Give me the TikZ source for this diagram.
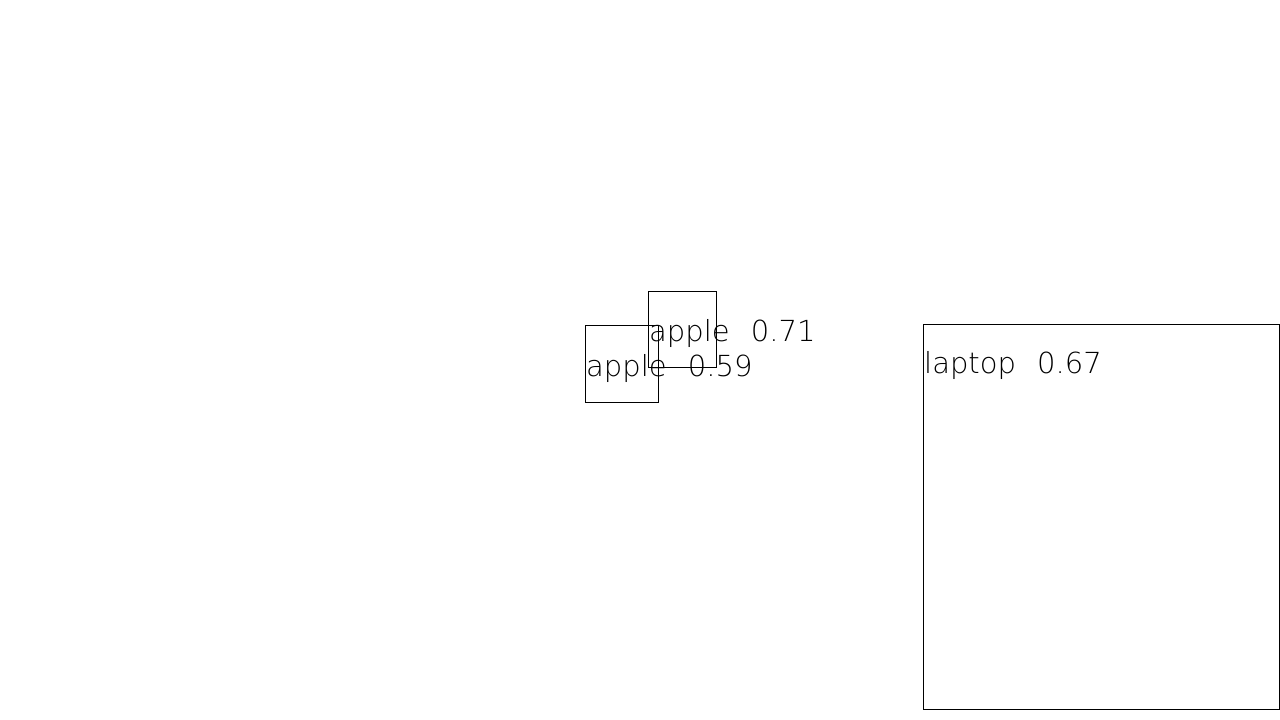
\documentclass[tikz,border=0pt]{standalone}
\usepackage{fontspec}
\usepackage{tikz}
\usetikzlibrary{calc}
\newfontfamily\detfont{DejaVu Sans}[UprightFont=* ExtraLight, WordSpace=2.3]

\tikzset{
	detbox/.style={draw=black, line width=1pt, inner sep=0pt, anchor=north west},
	detlabel/.style={anchor=base west, inner sep=0pt, text=black, font=\detfont\fontsize{29}{29}\selectfont}
}

\begin{document}
\begin{tikzpicture}[x=1pt, y=-1pt]
			\useasboundingbox (0,0) rectangle (1280,720);
			% boxes
			\node[detbox, minimum width=68pt, minimum height=76pt] (appleA) at (648,291) {};
			\node[detbox, minimum width=73pt, minimum height=77pt] (appleB) at (585,325) {};
			\node[detbox, minimum width=356pt, minimum height=385pt] (laptop) at (923,324) {};
			% labels
			\node[detlabel] (appleAlbl) at ($(appleA.north west)+(1pt,-50pt)$) {apple 0.71};
			\node[detlabel] (appleBlbl) at ($(appleB.north west)+(1pt,-51pt)$) {apple 0.59};
			\node[detlabel] (laptoplbl) at ($(laptop.north west)+(1pt,-49pt)$) {laptop 0.67};
		\end{tikzpicture}
\end{document}
